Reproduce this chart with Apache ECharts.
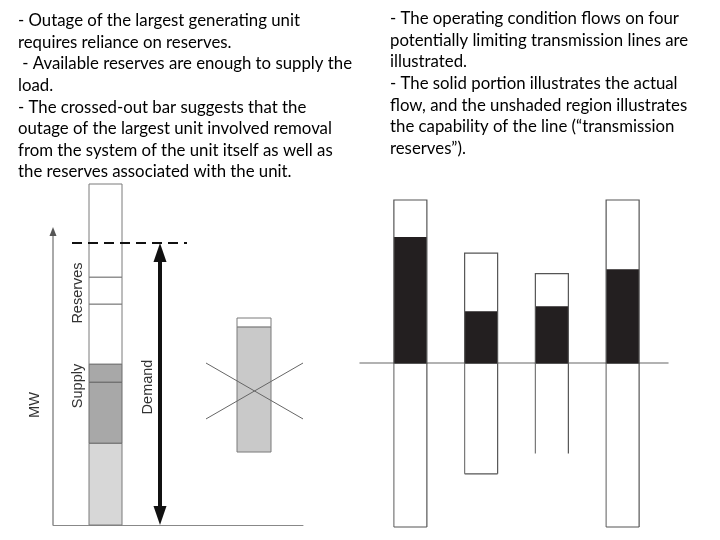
<!DOCTYPE html>
<html>
<head>
    <meta charset="utf-8" />
    <title>Generation and transmission reserves</title>
    <script src="https://cdn.jsdelivr.net/npm/echarts@6/dist/echarts.min.js"></script>
    <style type="text/css">
        html, body { margin: 0; padding: 0; background: #fff; }
        #main { width: 720px; height: 540px; }
    </style>
</head>
<body>
    <div id="main"></div>
    <script>
        // generation side, MW on a 0-100 scale
        var stackEdges = [0, 24, 41.9, 47.2, 64.8, 72.7, 100];
        var stackKinds = ['base', 'supply', 'supply', 'reserve', 'reserve', 'reserve'];
        var demandLevel = 82.7;
        var outageEdges = [21.4, 58.1, 60.7];
        var outageKinds = ['unit', 'reserve'];
        var mwAxisTop = 87.4;
        var crossLevels = [31.1, 47.5];

        // transmission side: four lines, flow vs capability
        var lineNames = ['Line 1', 'Line 2', 'Line 3', 'Line 4'];
        var lineCapacity = [100, 67.5, 55, 100];
        var lineFlow = [77.3, 31.9, 35, 57.7];
        var lineClosedBottom = [1, 1, 0, 1];

        var leftNotes = [
            '- Outage of the largest generating unit',
            'requires reliance on reserves.',
            ' - Available reserves are enough to supply the',
            'load.',
            '- The crossed-out bar suggests that the',
            'outage of the largest unit involved removal',
            'from the system of the unit itself as well as',
            'the reserves associated with the unit.'
        ];
        var rightNotes = [
            '- The operating condition flows on four',
            'potentially limiting transmission lines are',
            'illustrated.',
            '- The solid portion illustrates the actual',
            'flow, and the unshaded region illustrates',
            'the capability of the line (\u201ctransmission',
            'reserves\u201d).'
        ];

        // horizontal placement on the left panel (0-100 across the axis)
        var stackX = 21, stackW = 13.2;
        var outageX = 80.4, outageW = 13.6;
        var demandX = 42.8;
        var dashFrom = 7.6, dashTo = 53.6;
        var crossFrom = 61.2, crossTo = 100;

        var fills = {
            base: '#d7d7d7',
            supply: '#a8a8a8',
            reserve: '#ffffff',
            unit: '#c9c9c9'
        };

        var stackData = [];
        for (var i = 0; i < stackKinds.length; i++) {
            stackData.push([stackX, stackEdges[i], stackEdges[i + 1], stackW, stackKinds[i]]);
        }
        for (var j = 0; j < outageKinds.length; j++) {
            stackData.push([outageX, outageEdges[j], outageEdges[j + 1], outageW, outageKinds[j]]);
        }

        var lineData = lineNames.map(function (name, k) {
            return [k, lineCapacity[k], lineFlow[k], lineClosedBottom[k]];
        });

        function renderSegment(params, api) {
            var x = api.value(0), lo = api.value(1), hi = api.value(2), w = api.value(3);
            var kind = stackData[params.dataIndex][4];
            var p0 = api.coord([x - w / 2, hi]);
            var p1 = api.coord([x + w / 2, lo]);
            return {
                type: 'rect',
                shape: { x: p0[0], y: p0[1], width: p1[0] - p0[0], height: p1[1] - p0[1] },
                style: { fill: fills[kind], stroke: kind === 'supply' ? '#6a6a6a' : '#7a7a7a', lineWidth: 1 }
            };
        }

        // vertical arrow: [x, from, to, headsAtBothEnds]
        function renderArrow(params, api) {
            var x = api.value(0), y0 = api.value(1), y1 = api.value(2), both = api.value(3);
            var a = api.coord([x, y0]);
            var b = api.coord([x, y1]);
            var bold = both === 1;
            var hw = bold ? 6.5 : 3.5, hl = bold ? 19 : 9;
            var color = bold ? '#111' : '#555';
            var children = [{
                type: 'line',
                shape: { x1: a[0], y1: a[1] - (bold ? hl : 0), x2: b[0], y2: b[1] + hl * 0.8 },
                style: { stroke: color, lineWidth: bold ? 4 : 1 }
            }, {
                type: 'polygon',
                shape: { points: [[b[0], b[1]], [b[0] - hw, b[1] + hl], [b[0] + hw, b[1] + hl]] },
                style: { fill: color }
            }];
            if (bold) {
                children.push({
                    type: 'polygon',
                    shape: { points: [[a[0], a[1]], [a[0] - hw, a[1] - hl], [a[0] + hw, a[1] - hl]] },
                    style: { fill: color }
                });
            }
            return { type: 'group', children: children };
        }

        function renderLine(params, api) {
            var c = api.value(0), cap = api.value(1), flow = api.value(2), closed = api.value(3);
            var w = 33;
            var top = api.coord([c, cap]);
            var zero = api.coord([c, 0]);
            var bot = api.coord([c, -cap]);
            var fl = api.coord([c, flow]);
            var x0 = top[0] - w / 2, x1 = top[0] + w / 2;
            var edge = { stroke: '#555', lineWidth: 1.2, fill: null };
            var children = [
                { type: 'rect', shape: { x: x0, y: fl[1], width: w, height: zero[1] - fl[1] }, style: { fill: '#231f20' } },
                { type: 'rect', shape: { x: x0, y: top[1], width: w, height: zero[1] - top[1] }, style: edge },
                { type: 'line', shape: { x1: x0, y1: zero[1], x2: x0, y2: bot[1] }, style: { stroke: '#777', lineWidth: 1.2 } },
                { type: 'line', shape: { x1: x1, y1: zero[1], x2: x1, y2: bot[1] }, style: { stroke: '#555', lineWidth: 1.2 } }
            ];
            if (closed) {
                children.push({ type: 'line', shape: { x1: x0, y1: bot[1], x2: x1, y2: bot[1] }, style: { stroke: '#555', lineWidth: 1.2 } });
            }
            return { type: 'group', children: children };
        }

        var noteFont = 'Lato, "Open Sans", sans-serif';
        var labelFont = '"Liberation Sans", Arial, sans-serif';

        function vlabel(text, x, y) {
            return {
                type: 'text', x: x, y: y, rotation: Math.PI / 2,
                style: { text: text, fill: '#333', font: '14.5px ' + labelFont, align: 'center', verticalAlign: 'middle' }
            };
        }

        var chart = echarts.init(document.getElementById('main'));
        var option = {
            animation: false,
            grid: [
                { left: 53, right: 417, top: 184, bottom: 15 },
                { left: 375, right: 62, top: 200, bottom: 13 },
                { left: 360, right: 52, top: 200, height: 163 }
            ],
            xAxis: [
                {
                    gridIndex: 0, type: 'value', min: 0, max: 100,
                    axisLine: { show: true, lineStyle: { color: '#888', width: 1 } },
                    axisTick: { show: false }, axisLabel: { show: false }, splitLine: { show: false }
                },
                { gridIndex: 1, type: 'category', data: lineNames, show: false },
                {
                    gridIndex: 2, type: 'value', min: 0, max: 1,
                    axisLine: { show: true, lineStyle: { color: '#999', width: 1.5 } },
                    axisTick: { show: false }, axisLabel: { show: false }, splitLine: { show: false }
                }
            ],
            yAxis: [
                { gridIndex: 0, type: 'value', min: 0, max: 100, show: false },
                { gridIndex: 1, type: 'value', min: -100, max: 100, show: false },
                { gridIndex: 2, type: 'value', min: 0, max: 1, show: false }
            ],
            graphic: [
                {
                    type: 'text', left: 18, top: 10,
                    style: { text: leftNotes.join('\n'), fill: '#000', font: '16.8px ' + noteFont, lineHeight: 21.6 }
                },
                {
                    type: 'text', left: 390, top: 8,
                    style: { text: rightNotes.join('\n'), fill: '#000', font: '16.8px ' + noteFont, lineHeight: 21.6 }
                },
                vlabel('Reserves', 78, 293),
                vlabel('Supply', 78, 386),
                vlabel('Demand', 148, 387),
                vlabel('MW', 35, 405)
            ],
            series: [
                {
                    type: 'custom', xAxisIndex: 0, yAxisIndex: 0, silent: true,
                    renderItem: renderSegment, data: stackData.map(function (d) { return d.slice(0, 4); }),
                    markLine: {
                        silent: true, symbol: 'none', label: { show: false }, animation: false,
                        data: [
                            [{ coord: [dashFrom, demandLevel], lineStyle: { color: '#111', width: 2, type: [10, 6] } },
                             { coord: [dashTo, demandLevel] }],
                            [{ coord: [crossFrom, crossLevels[1]], lineStyle: { color: '#666', width: 1, type: 'solid' } },
                             { coord: [crossTo, crossLevels[0]] }],
                            [{ coord: [crossFrom, crossLevels[0]], lineStyle: { color: '#666', width: 1, type: 'solid' } },
                             { coord: [crossTo, crossLevels[1]] }]
                        ]
                    }
                },
                {
                    type: 'custom', xAxisIndex: 0, yAxisIndex: 0, silent: true, z: 5,
                    renderItem: renderArrow,
                    data: [[demandX, 0, demandLevel, 1], [0, 0, mwAxisTop, 0]]
                },
                {
                    type: 'custom', xAxisIndex: 1, yAxisIndex: 1, silent: true,
                    renderItem: renderLine, data: lineData
                }
            ]
        };
        chart.setOption(option);
    </script>
</body>
</html>
